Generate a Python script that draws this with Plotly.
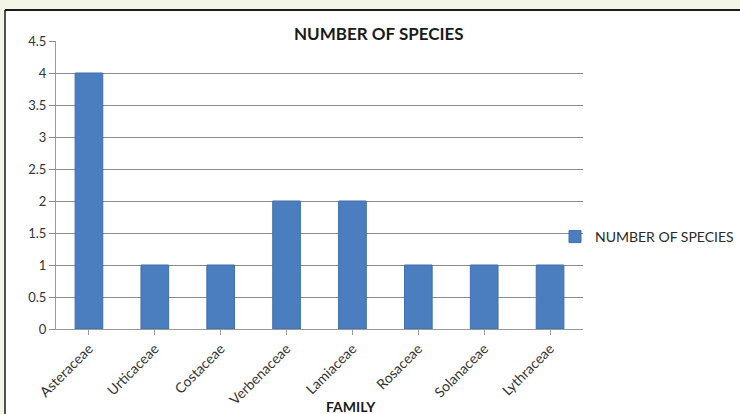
import plotly.graph_objects as go

families = ["Asteraceae", "Urticaceae", "Costaceae", "Verbenaceae",
            "Lamiaceae", "Rosaceae", "Solanaceae", "Lythraceae"]
species_counts = [4, 1, 1, 2, 2, 1, 1, 1]
series_name = "NUMBER OF SPECIES"

W, H = 740, 414
L, R, T, B = 56, 157, 41, 85
pw, ph = W - L - R, H - T - B


def px_x(x):
    return (x - L) / pw


def px_y(y):
    return (H - B - y) / ph


font_family = "Lato, 'Open Sans', sans-serif"
bar_color = "#4a7ebf"

fig = go.Figure()
fig.add_trace(go.Bar(
    x=families, y=species_counts, name=series_name,
    marker=dict(color=bar_color, line=dict(color="#3f6fae", width=1)),
))

fig.update_layout(
    width=W, height=H,
    margin=dict(l=L, r=R, t=T, b=B, autoexpand=False),
    paper_bgcolor="#f3f6e6",
    plot_bgcolor="rgba(0,0,0,0)",
    bargap=0.58,
    font=dict(family=font_family, size=12, color="#333333"),
    showlegend=True,
    legend=dict(x=px_x(555), y=px_y(237), xanchor="left", yanchor="middle",
                bgcolor="rgba(0,0,0,0)",
                font=dict(size=14, color="#2a2a2a"),
                itemwidth=30),
    xaxis=dict(tickangle=-45, showline=True, linecolor="#9a9a9a",
               ticks="outside", ticklen=5, tickcolor="#9a9a9a",
               tickfont=dict(size=14, color="#333333"), showgrid=False),
    yaxis=dict(range=[0, 4.5], dtick=0.5, showline=True, linecolor="#9a9a9a",
               gridcolor="#8a8a8a", gridwidth=1, ticks="outside", ticklen=6,
               tickcolor="#8a8a8a", zeroline=False,
               tickfont=dict(size=13, color="#333333")),
    shapes=[
        # white chart frame inside the outer tinted border
        dict(type="rect", xref="paper", yref="paper", layer="below",
             x0=px_x(5), x1=px_x(W + 5), y0=px_y(H + 5), y1=px_y(10),
             fillcolor="white", line=dict(width=0)),
        dict(type="line", xref="paper", yref="paper",
             x0=px_x(5), x1=px_x(W + 5), y0=px_y(10), y1=px_y(10),
             line=dict(color="#1a1a1a", width=2)),
        dict(type="line", xref="paper", yref="paper",
             x0=px_x(5), x1=px_x(5), y0=px_y(10), y1=px_y(H + 5),
             line=dict(color="#1a1a1a", width=1.5)),
    ],
    annotations=[
        dict(text="<b>NUMBER OF SPECIES</b>", xref="paper", yref="paper",
             x=px_x(379), y=px_y(34), showarrow=False,
             font=dict(size=17, color="#1a1a1a"), bgcolor="white",
             xanchor="center", yanchor="middle"),
        dict(text="<b>FAMILY</b>", xref="paper", yref="paper",
             x=px_x(351), y=px_y(406), showarrow=False,
             font=dict(size=14, color="#1a1a1a"),
             xanchor="center", yanchor="middle"),
    ],
)

fig.write_html("out.html")
